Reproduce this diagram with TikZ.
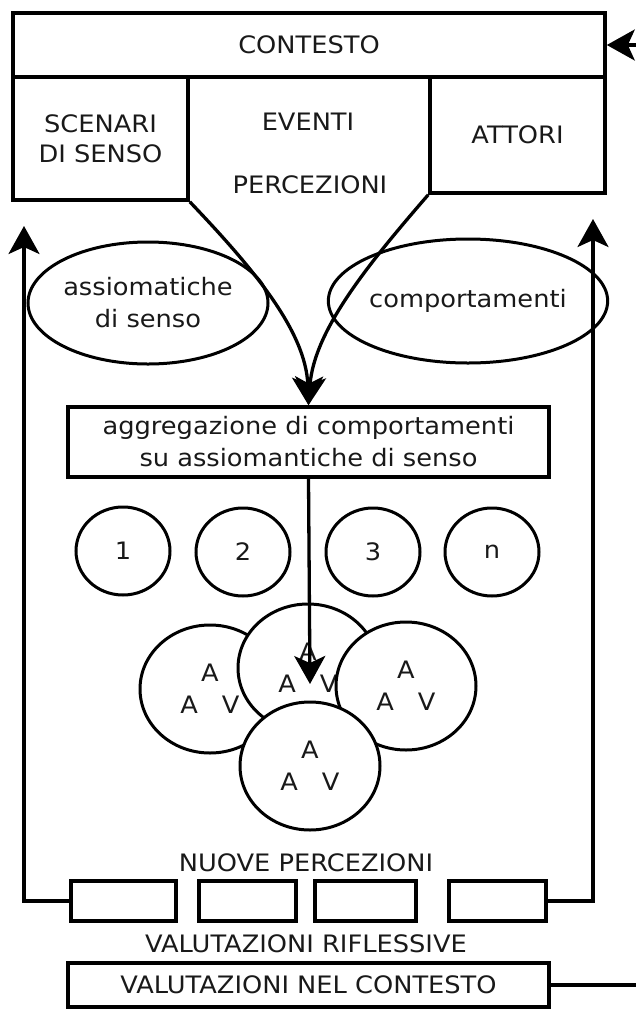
\documentclass[tikz,border=0pt]{standalone}
\usepackage{fontspec}
\setmainfont{DejaVu Sans}[FakeStretch=1.07]
\usetikzlibrary{shapes.geometric,arrows.meta}
\begin{document}
\begin{tikzpicture}[x=1pt,y=-1pt,
  every node/.style={font=\fontsize{24}{32}\selectfont, text=black!90},
  box/.style={draw, line width=3.6pt, inner sep=0pt},
  oval/.style={draw, ellipse, line width=3pt, inner sep=0pt, align=center},
  avc/.style={draw, ellipse, line width=3pt, fill=white, inner sep=0pt, align=center, minimum width=140pt, minimum height=128pt},
  link/.style={line width=3.3pt},
  arr/.style={link, -{Stealth[length=28pt,width=31pt,inset=7pt]}}
]
\useasboundingbox (0,0) rectangle (635,1010);
% top boxes
\node[box, minimum width=592pt, minimum height=64pt] (ctx) at (309,45) {CONTESTO};
\node[box, minimum width=175pt, minimum height=123pt, align=center] (scen) at (100.5,138.5) {SCENARI\\[-2pt]DI SENSO};
\node[box, minimum width=175pt, minimum height=116pt] (att) at (517.5,135) {ATTORI};
\node (ev) at (308,122) {EVENTI};
\node (perc) at (310,185) {PERCEZIONI};
% ellipses
\node[oval, minimum width=240pt, minimum height=122pt] (ass) at (148,303) {assiomatiche\\di senso};
\node[oval, minimum width=238pt, minimum height=124pt] (comp) at (468,301) {comportamenti};
% aggregation box
\node[box, minimum width=481pt, minimum height=70pt, align=center] (agg) at (308.5,442) {aggregazione di comportamenti\\su assiomantiche di senso};
% converging arrows
\draw[arr] (scen.south east) .. controls (250,265) and (306,330) .. (agg.north);
\draw[arr] (att.south west) .. controls (370,262) and (314,330) .. (agg.north);
% numbered circles
\node[oval, minimum width=94pt, minimum height=88pt] (c1) at (123,551) {1};
\node[oval, minimum width=94pt, minimum height=88pt] (c2) at (243,552) {2};
\node[oval, minimum width=94pt, minimum height=88pt] (c3) at (373,552) {3};
\node[oval, minimum width=94pt, minimum height=88pt] (cn) at (492,552) {n};
% A V circles
\node[avc] (av1) at (210,689) {A\\A\hspace{24pt}V};
\node[avc] (av2) at (308,668) {A\\A\hspace{24pt}V};
\node[avc] (av3) at (406,686) {A\\A\hspace{24pt}V};
\node[avc] (av4) at (310,766) {A\\A\hspace{24pt}V};
\coordinate (tipav) at (310,684);
\draw[arr] (agg.south) -- (tipav);
% new perceptions
\node (np) at (306,863) {NUOVE PERCEZIONI};
\node[box, minimum width=105pt, minimum height=40pt] (r1) at (123.5,901) {};
\node[box, minimum width=97pt, minimum height=40pt] (r2) at (247.5,901) {};
\node[box, minimum width=101pt, minimum height=40pt] (r3) at (365.5,901) {};
\node[box, minimum width=97pt, minimum height=40pt] (r4) at (497.5,901) {};
\coordinate (lt) at (24,226);
\coordinate (rt) at (593,219);
\draw[arr] (r1.west) -| (lt);
\draw[arr] (r4.east) -| (rt);
\node (vr) at (306,944) {VALUTAZIONI RIFLESSIVE};
\node[box, minimum width=481pt, minimum height=44pt] (vc) at (308.5,985) {VALUTAZIONI NEL CONTESTO};
\coordinate (outb) at (636,985);
\coordinate (outt) at (636,45);
\draw[link] (vc.east) -- (outb);
\draw[arr] (outt) -- (ctx.east);
\end{tikzpicture}
\end{document}
